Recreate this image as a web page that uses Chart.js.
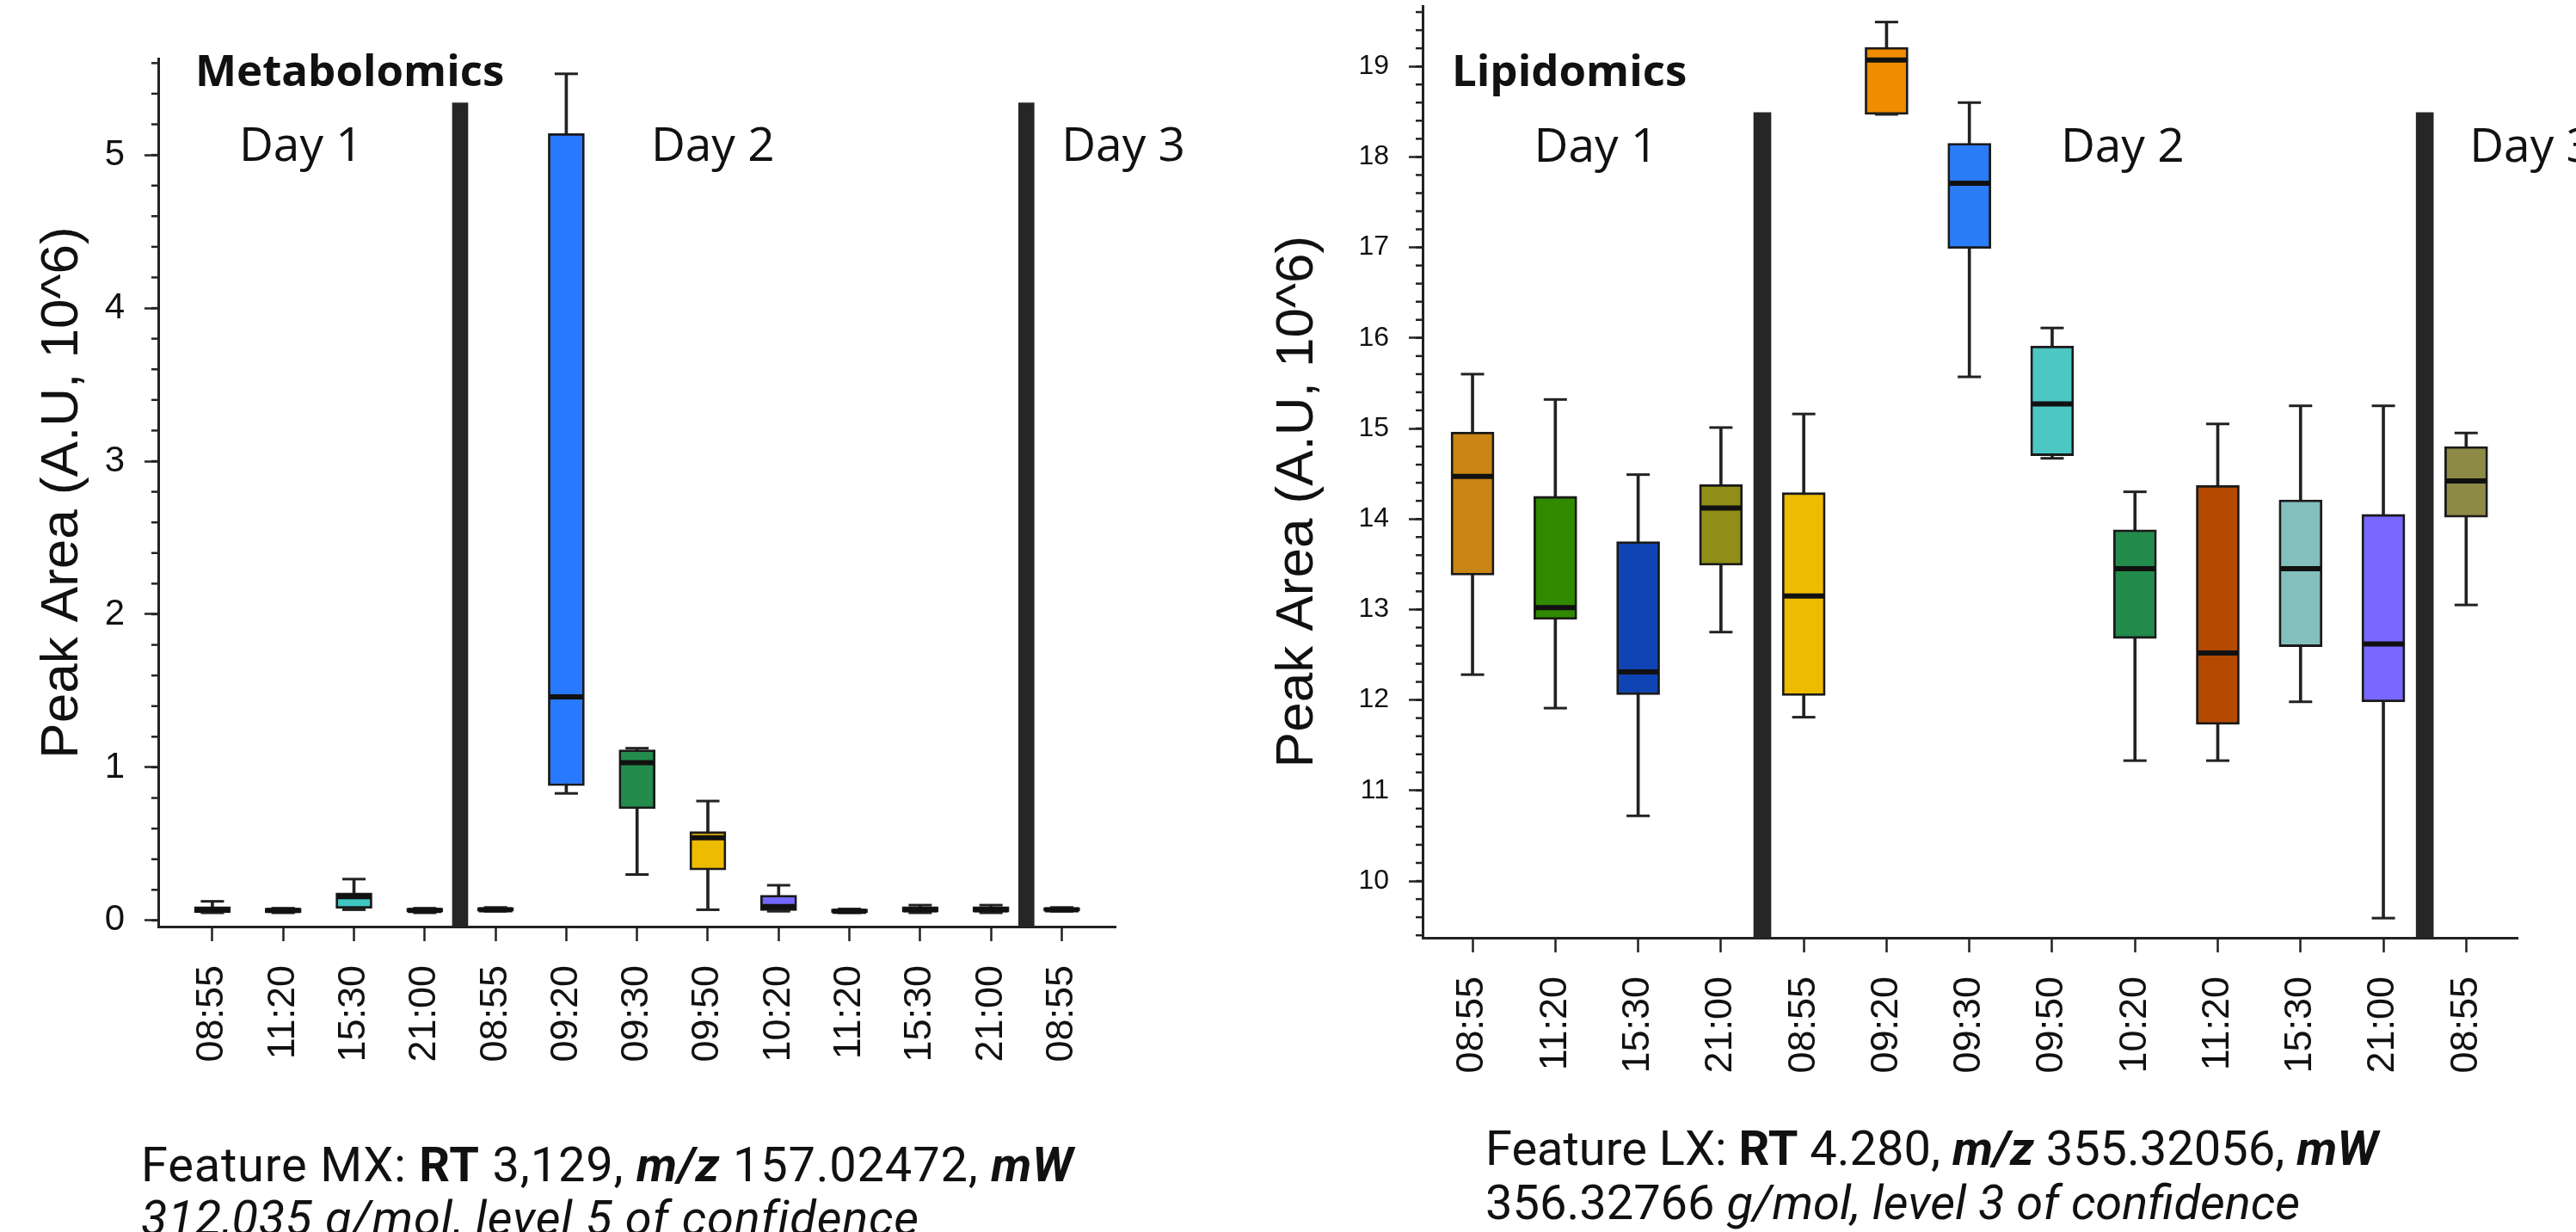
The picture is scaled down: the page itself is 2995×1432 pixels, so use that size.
<!DOCTYPE html>
<html><head><meta charset="utf-8">
<script src="https://cdn.jsdelivr.net/npm/chart.js@4.4.1/dist/chart.umd.min.js"></script>
<style>
html,body{margin:0;padding:0;background:#fff;width:2995px;height:1432px;overflow:hidden;position:relative;}
canvas{position:absolute;top:0;}
#c1{left:0;}
#c2{left:1440px;}
.cap{position:absolute;font-family:Roboto,sans-serif;font-size:56px;color:#111;line-height:62px;white-space:nowrap;}
</style></head><body>
<canvas id="c1" width="1440" height="1300"></canvas>
<canvas id="c2" width="1555" height="1300"></canvas>
<div class="cap" style="left:164px;top:1323px;letter-spacing:0.8px;">Feature MX: <b>RT</b> 3,129, <b><i>m/z</i></b> 157.02472, <b><i>mW</i></b><br><i>312,035 g/mol, level 5 of confidence</i></div>
<div class="cap" style="left:1727px;top:1304px;line-height:63px;">Feature LX: <b>RT</b> 4.280, <b><i>m/z</i></b> 355.32056, <b><i>mW</i></b><br>356.32766 <i>g/mol, level 3 of confidence</i></div>
<script>
// ---------- data ----------
const categories = ["08:55","11:20","15:30","21:00","08:55","09:20","09:30","09:50","10:20","11:20","15:30","21:00","08:55"];

// Metabolomics (Peak area, 10^6)
const mxMin = [0.05, 0.05, 0.07, 0.05, 0.06, 0.83, 0.30, 0.07, 0.06, 0.05, 0.05, 0.05, 0.06];
const mxQ1  = [0.05, 0.05, 0.08, 0.055, 0.06, 0.88, 0.73, 0.33, 0.065, 0.05, 0.055, 0.055, 0.06];
const mxMed = [0.07, 0.065, 0.155, 0.065, 0.07, 1.46, 1.03, 0.54, 0.09, 0.06, 0.07, 0.07, 0.07];
const mxQ3  = [0.09, 0.08, 0.18, 0.08, 0.085, 5.14, 1.115, 0.58, 0.165, 0.075, 0.09, 0.09, 0.085];
const mxMax = [0.125, 0.08, 0.27, 0.08, 0.085, 5.53, 1.125, 0.78, 0.23, 0.075, 0.10, 0.10, 0.085];
const mxYTicks = [0, 1, 2, 3, 4, 5];

// Lipidomics (Peak area, 10^6)
const lxMin = [12.28, 11.91, 10.72, 12.75, 11.81, 18.47, 15.57, 14.67, 11.33, 11.33, 11.98, 9.59, 13.05];
const lxQ1  = [13.38, 12.89, 12.06, 13.49, 12.05, 18.47, 16.99, 14.70, 12.68, 11.73, 12.59, 11.98, 14.02];
const lxMed = [14.47, 13.02, 12.31, 14.12, 13.15, 19.07, 17.71, 15.27, 13.45, 12.52, 13.45, 12.62, 14.42];
const lxQ3  = [14.96, 14.25, 13.75, 14.38, 14.29, 19.21, 18.15, 15.91, 13.88, 14.37, 14.21, 14.05, 14.80];
const lxMax = [15.60, 15.32, 14.49, 15.01, 15.16, 19.49, 18.60, 16.11, 14.30, 15.05, 15.25, 15.25, 14.95];
const lxYTicks = [10, 11, 12, 13, 14, 15, 16, 17, 18, 19];

// day separators (between categories) and day labels
const dayLabels = ["Day 1", "Day 2", "Day 3"];
const separators = [3.5, 11.5];

// ---------- styles ----------
const mxColors = ['#C98615','#2F8A00','#3FC7C2','#8F8F18','#EDBB00','#2979FF','#238B4C','#EDBB00','#7468FF','#B34A00','#82BFBD','#7868FF','#8C8A45'];
const lxColors = ['#C98615','#2F8A00','#1044B5','#8F8F18','#EDBB00','#F08C00','#2A7CF8','#4CC7C4','#238B4C','#B34A00','#82BFBD','#7868FF','#8C8A45'];

const annot = {
  id: 'annot',
  afterDraw(chart, args, o) {
    const ctx = chart.ctx, xs = chart.scales.x, ys = chart.scales.y;
    ctx.save();
    ctx.strokeStyle = '#222'; ctx.lineWidth = 2.5;
    const n = Math.round((o.minorTo - o.minorFrom) / o.minorStep);
    for (let k = 0; k <= n; k++) {
      const py = ys.getPixelForValue(o.minorFrom + k * o.minorStep);
      ctx.beginPath(); ctx.moveTo(ys.right - 8, py); ctx.lineTo(ys.right, py); ctx.stroke();
    }
    ctx.fillStyle = '#111'; ctx.textBaseline = 'alphabetic';
    for (const t of o.texts) {
      ctx.font = t.font; ctx.textAlign = t.align;
      ctx.fillText(t.text, xs.getPixelForValue(t.x), ys.getPixelForValue(t.y));
    }
    ctx.restore();
  }
};

function noPad(s) { s.paddingTop = 0; s.paddingBottom = 0; s.paddingLeft = 0; s.paddingRight = 0; }

function boxChart(id, d, L) {
  const idx = categories.map((_, i) => i);
  return new Chart(document.getElementById(id), {
    type: 'bar',
    data: {
      datasets: [
        { type: 'bar', label: 'separator', data: separators.map(x => ({x, y: [L.yMin, L.sepTop]})),
          backgroundColor: '#262626', borderWidth: 0, barThickness: L.sepW, grouped: false, order: 0 },
        { type: 'scatter', label: 'median', data: idx.map(i => ({x: i, y: d.med[i]})),
          pointStyle: 'line', pointRadius: L.boxW / 2 - 1.5, pointBorderWidth: 6, pointBorderColor: '#111', order: 1 },
        { type: 'scatter', label: 'caps', data: idx.flatMap(i => [{x: i, y: d.min[i]}, {x: i, y: d.max[i]}]),
          pointStyle: 'line', pointRadius: 13.5, pointBorderWidth: 3, pointBorderColor: '#222', order: 1 },
        { type: 'bar', label: 'box', data: idx.map(i => ({x: i, y: [d.q1[i], d.q3[i]]})),
          backgroundColor: L.colors, borderColor: '#1a1a1a', borderWidth: 2.8, borderSkipped: false,
          barThickness: L.boxW, grouped: false, order: 2 },
        { type: 'bar', label: 'whisker', data: idx.map(i => ({x: i, y: [d.min[i], d.max[i]]})),
          backgroundColor: '#222', borderWidth: 0, barThickness: 3, grouped: false, order: 3 }
      ]
    },
    options: {
      responsive: false, devicePixelRatio: 1, animation: false, events: [],
      layout: { autoPadding: false, padding: { left: 0, top: L.padTop, right: L.padRight, bottom: 0 } },
      plugins: {
        legend: { display: false }, tooltip: { enabled: false },
        annot: { minorFrom: L.minorFrom, minorTo: L.minorTo, minorStep: 0.2, texts: L.texts }
      },
      scales: {
        x: {
          type: 'linear', min: L.xMin, max: L.xMax, offset: false,
          afterBuildTicks: s => { s.ticks = idx.map(v => ({value: v})); },
          afterFit: s => { s.height = L.xAxisH; noPad(s); },
          ticks: { callback: v => categories[v], autoSkip: false, minRotation: 90, maxRotation: 90, padding: 28,
                   color: '#111', font: { family: 'Liberation Sans', size: 45 } },
          grid: { offset: false, drawOnChartArea: false, drawTicks: true, tickLength: 17, tickWidth: 2.5, tickColor: '#222' },
          border: { display: true, width: 3, color: '#222' }
        },
        y: {
          type: 'linear', min: L.yMin, max: L.yMax,
          afterBuildTicks: s => { s.ticks = L.yTicks.map(v => ({value: v})); },
          afterFit: s => { s.width = L.yAxisW; noPad(s); },
          ticks: { padding: 23, color: '#111', font: { family: 'Liberation Sans', size: L.yTickSize } },
          grid: { drawOnChartArea: false, tickLength: 16, tickWidth: 2.5, tickColor: '#222' },
          border: { display: true, width: 3, color: '#222' },
          title: { display: true, text: L.yTitle, color: '#111', font: { family: 'Liberation Sans', size: 62 },
                   padding: { top: L.titlePad, bottom: 0 } }
        }
      }
    },
    plugins: [annot]
  });
}

const dayFont = '55px "Open Sans"';
const headFont = 'bold 51px "Open Sans"';

boxChart('c1', {min: mxMin, q1: mxQ1, med: mxMed, q3: mxQ3, max: mxMax}, {
  colors: mxColors, yTicks: mxYTicks, yMin: -0.04, yMax: 5.63, xMin: -0.765, xMax: 12.76,
  yAxisW: 184, xAxisH: 223, padTop: 68, padRight: 143, boxW: 42, sepW: 18, sepTop: 5.34,
  yTickSize: 42, titlePad: 36, yTitle: 'Peak Area (A.U, 10^6)', minorFrom: 0, minorTo: 5.6,
  texts: [
    {text: 'Metabolomics', x: -0.243, y: 5.45, font: headFont, align: 'left'},
    {text: dayLabels[0], x: 1.25, y: 4.96, font: dayFont, align: 'center'},
    {text: dayLabels[1], x: 7.07, y: 4.96, font: dayFont, align: 'center'},
    {text: dayLabels[2], x: 12.87, y: 4.96, font: dayFont, align: 'center'}
  ]
});

boxChart('c2', {min: lxMin, q1: lxQ1, med: lxMed, q3: lxQ3, max: lxMax}, {
  colors: lxColors, yTicks: lxYTicks, yMin: 9.373, yMax: 19.667, xMin: -0.603, xMax: 12.62,
  yAxisW: 214, xAxisH: 210, padTop: 7, padRight: 68, boxW: 50, sepW: 20, sepTop: 18.49,
  yTickSize: 32, titlePad: 32, yTitle: 'Peak Area (A.U, 10^6)    ', minorFrom: 9.4, minorTo: 19.6,
  texts: [
    {text: 'Lipidomics', x: -0.25, y: 18.78, font: headFont, align: 'left'},
    {text: dayLabels[0], x: 1.49, y: 17.95, font: dayFont, align: 'center'},
    {text: dayLabels[1], x: 7.85, y: 17.95, font: dayFont, align: 'center'},
    {text: dayLabels[2], x: 12.04, y: 17.95, font: dayFont, align: 'left'}
  ]
});
</script>
</body></html>
